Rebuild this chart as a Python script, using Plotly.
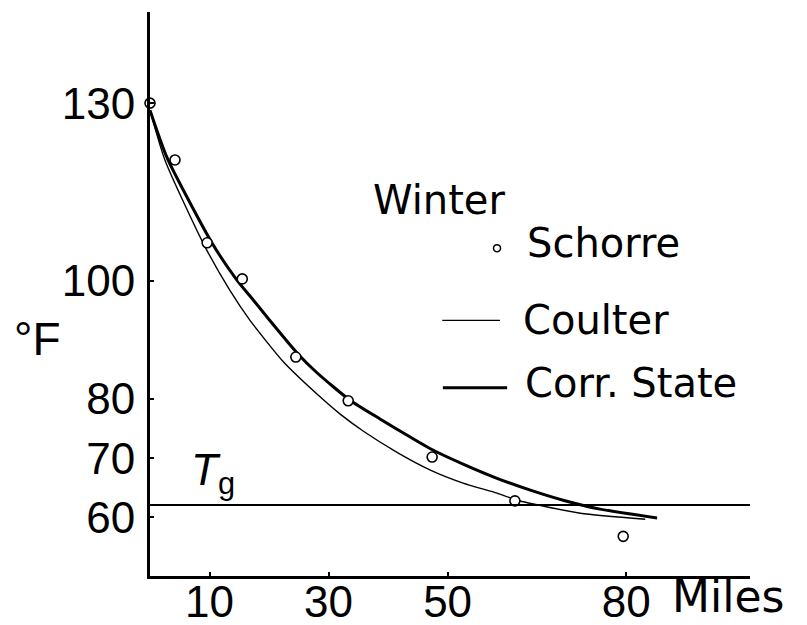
import plotly.graph_objects as go

# Data
schorre_x = [0, 4.2, 9.6, 15.5, 24.5, 33.3, 47.4, 61.3, 79.5]
schorre_y = [130, 120.4, 106.4, 100.3, 87.1, 79.7, 70.2, 62.8, 56.8]

coulter_x = [0, 2.5, 8.9, 13.4, 16.8, 22.4, 28.1, 31.9, 35.8, 41.5, 47.1, 52.6, 58.3, 61.7, 72.3, 83.2]
coulter_y = [128.8, 120.4, 106.4, 98.4, 93.3, 86.3, 80.8, 77.5, 74.6, 71.0, 68.0, 65.8, 64.1, 62.9, 60.7, 59.7]

corr_x = [0, 2.9, 10.4, 14.6, 16.8, 20.2, 24.7, 28.1, 33.6, 38.7, 41.5, 47.1, 52.6, 58.3, 63.9, 69.4, 75.6, 85.2]
corr_y = [128.8, 120.7, 106.4, 100.1, 97.4, 93.2, 87.8, 84.4, 79.8, 76.6, 74.9, 71.6, 69.0, 66.6, 64.6, 62.9, 61.4, 59.9]

tg_value = 62.1

x_ticks = [10, 30, 50, 80]
y_ticks = [60, 70, 80, 100, 130]

NUMFONT = "Liberation Sans, Arial, sans-serif"
TXTFONT = "DejaVu Sans, Liberation Sans, sans-serif"

fig = go.Figure()

fig.add_trace(go.Scatter(x=coulter_x, y=coulter_y, mode="lines",
                         line=dict(color="black", width=1.4, shape="spline", smoothing=0.6),
                         showlegend=False, cliponaxis=False))
fig.add_trace(go.Scatter(x=corr_x, y=corr_y, mode="lines",
                         line=dict(color="black", width=3, shape="spline", smoothing=0.6),
                         showlegend=False, cliponaxis=False))
fig.add_trace(go.Scatter(x=schorre_x, y=schorre_y, mode="markers",
                         marker=dict(symbol="circle", size=10, color="white",
                                     line=dict(color="black", width=1.6)),
                         showlegend=False, cliponaxis=False))

# Tg line
fig.add_shape(type="line", xref="paper", yref="y", x0=0, x1=1, y0=tg_value, y1=tg_value,
              line=dict(color="black", width=2))

# Legend drawn manually
fig.add_trace(go.Scatter(x=[58.3], y=[105.5], mode="markers",
                         marker=dict(symbol="circle", size=7, color="white",
                                     line=dict(color="black", width=1.5)),
                         showlegend=False, cliponaxis=False))
fig.add_shape(type="line", xref="x", yref="y", x0=49.1, x1=58.8, y0=93.3, y1=93.3,
              line=dict(color="black", width=1.4))
fig.add_shape(type="line", xref="x", yref="y", x0=49.2, x1=60.0, y0=81.9, y1=81.9,
              line=dict(color="black", width=3))

tsize = 40
for txt, x, y in [("Winter", 37.2, 113.6), ("Schorre", 63.0, 106.4),
                  ("Coulter", 62.3, 93.3), ("Corr. State", 62.6, 82.7)]:
    fig.add_annotation(x=x, y=y, xref="x", yref="y", text=txt, showarrow=False,
                       xanchor="left", yanchor="middle",
                       font=dict(family=TXTFONT, size=tsize, color="black"))

fig.add_annotation(x=0.868, y=-0.036, xref="paper", yref="paper", text="Miles",
                   showarrow=False, xanchor="left", yanchor="middle", borderpad=0,
                   font=dict(family=TXTFONT, size=44, color="black"))
fig.add_annotation(x=-0.188, y=0.42, xref="paper", yref="paper", text="°F",
                   showarrow=False, xanchor="center", yanchor="middle",
                   font=dict(family=NUMFONT, size=46, color="black"))
fig.add_annotation(x=6.5, y=62.4, xref="x", yref="y", text="<i>T</i><sub>g</sub>",
                   showarrow=False, xanchor="left", yanchor="bottom",
                   font=dict(family=NUMFONT, size=44, color="black"))

# page body has an 8px margin, so the figure is shrunk by 8px to fit the window
fig.update_layout(
    width=799, height=617,
    margin=dict(l=142, r=57, t=4, b=49),
    paper_bgcolor="white", plot_bgcolor="white",
    font=dict(family=NUMFONT, color="black"),
    xaxis=dict(range=[0, 100.8], tickvals=x_ticks, ticktext=[str(v) for v in x_ticks],
               showline=True, linecolor="black", linewidth=3, showgrid=False,
               zeroline=False, ticks="inside", ticklen=4, tickwidth=2, tickcolor="black",
               tickfont=dict(family=NUMFONT, size=44, color="black"),
               ticklabelstandoff=-15, automargin=False),
    yaxis=dict(range=[50.1, 145.4], tickvals=y_ticks, ticktext=[str(v) for v in y_ticks],
               showline=True, linecolor="black", linewidth=3, showgrid=False,
               zeroline=False, ticks="inside", ticklen=4, tickwidth=2, tickcolor="black",
               tickfont=dict(family=NUMFONT, size=44, color="black"),
               ticklabelstandoff=3, automargin=False),
)

fig.write_html("out.html")
